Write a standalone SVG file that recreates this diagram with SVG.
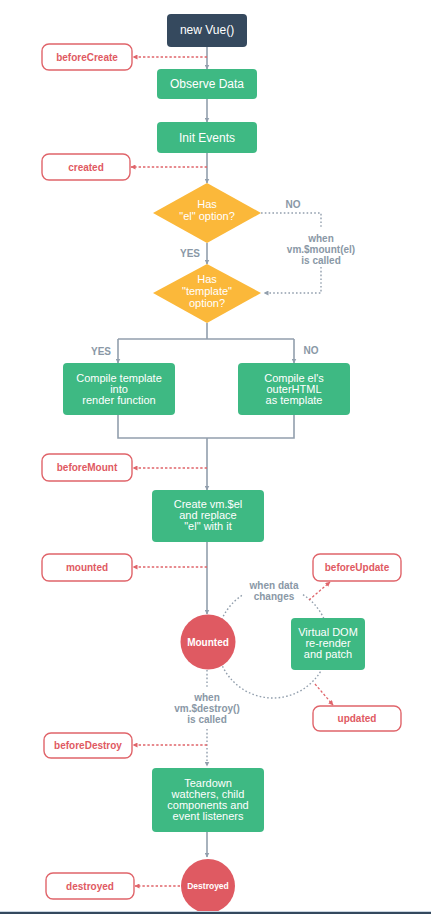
<svg xmlns="http://www.w3.org/2000/svg" width="431" height="914" viewBox="0 0 431 914">
<defs>
<style>
text{font-family:"Liberation Sans",Arial,sans-serif;text-anchor:middle}
.g{fill:#3eb983}
.d{fill:#35495e}
.o{fill:#fbb83a}
.r{fill:#df5a62}
.hook{fill:#fff;stroke:#e0646a;stroke-width:1.4}
.ht{fill:#df5a62;font-size:10px;font-weight:bold}
.wt{fill:#fff;font-size:11px}
.lt{fill:#8a98a6;font-size:10px;font-weight:bold}
.c{fill:none;stroke:#929fad;stroke-width:1.6}
.cd{fill:none;stroke:#929fad;stroke-width:1.4;stroke-dasharray:1.6 2.2}
.rd{fill:none;stroke:#e0646a;stroke-width:1.3;stroke-dasharray:2.4 2}
</style>
<marker id="ag" viewBox="0 0 10 10" refX="9" refY="5" markerWidth="5" markerHeight="5" markerUnits="userSpaceOnUse" orient="auto"><path d="M0 0L10 5L0 10z" fill="#929fad"/></marker>
<marker id="ar" viewBox="0 0 10 10" refX="9" refY="5" markerWidth="5" markerHeight="5" markerUnits="userSpaceOnUse" orient="auto"><path d="M0 0L10 5L0 10z" fill="#e0646a"/></marker>
</defs>
<rect width="431" height="914" fill="#fff"/>
<g id="connectors">
<path class="c" d="M207 47V69" marker-end="url(#ag)"/>
<path class="c" d="M207 99V122" marker-end="url(#ag)"/>
<path class="c" d="M207 153V183" marker-end="url(#ag)"/>
<path class="rd" d="M207 57H133" marker-end="url(#ar)"/>
<path class="rd" d="M207 167H131" marker-end="url(#ar)"/>
<path class="c" d="M207 243V264" marker-end="url(#ag)"/>
<path class="cd" d="M261 213H321V229"/>
<path class="cd" d="M321 267V293H264" marker-end="url(#ag)"/>
<path class="c" d="M207 323V339M118 339H294"/>
<path class="c" d="M118 339V363" marker-end="url(#ag)"/>
<path class="c" d="M294 339V363" marker-end="url(#ag)"/>
<path class="c" d="M118 415V438H294V415M207 438V490" marker-end="url(#ag)"/>
<path class="rd" d="M207 468H133" marker-end="url(#ar)"/>
<path class="c" d="M207 542V614" marker-end="url(#ag)"/>
<path class="rd" d="M207 567H133" marker-end="url(#ar)"/>
<path class="cd" d="M303 594.7A56 56 0 1 1 243 594.7"/>
<path class="rd" d="M309 600L330 582" marker-end="url(#ar)"/>
<path class="rd" d="M315 684L333 705" marker-end="url(#ar)"/>
<path class="cd" d="M207 670V687"/>
<path class="cd" d="M207 729V766" marker-end="url(#ag)"/>
<path class="rd" d="M207 745H133" marker-end="url(#ar)"/>
<path class="c" d="M207 832V857" marker-end="url(#ag)"/>
<path class="rd" d="M180 886H135" marker-end="url(#ar)"/>
</g>
<g id="new-vue"><rect class="d" x="167" y="14" width="80" height="33" rx="4"/><text class="wt" x="207" y="34" style="font-size:12px">new Vue()</text></g>
<g id="before-create"><rect class="hook" x="42" y="44" width="90" height="26" rx="7"/><text class="ht" x="87" y="61">beforeCreate</text></g>
<g id="observe-data"><rect class="g" x="157" y="69" width="100" height="30" rx="4"/><text class="wt" x="207" y="88" style="font-size:12px">Observe Data</text></g>
<g id="init-events"><rect class="g" x="157" y="122" width="100" height="31" rx="4"/><text class="wt" x="207" y="142" style="font-size:12px">Init Events</text></g>
<g id="created"><rect class="hook" x="42" y="154" width="88" height="26" rx="7"/><text class="ht" x="86" y="171">created</text></g>
<g id="has-el"><path class="o" d="M207 183L261 213L207 243L153 213z"/><text class="wt" x="207" y="208">Has</text><text class="wt" x="207" y="220">"el" option?</text></g>
<g id="labels-el"><text class="lt" x="293" y="208">NO</text><text class="lt" x="190" y="257">YES</text><text class="lt" x="321" y="242">when</text><text class="lt" x="321" y="253">vm.$mount(el)</text><text class="lt" x="321" y="264">is called</text></g>
<g id="has-template"><path class="o" d="M207 264L261 293L207 323L153 293z"/><text class="wt" x="207" y="283">Has</text><text class="wt" x="207" y="295">"template"</text><text class="wt" x="207" y="307">option?</text></g>
<g id="labels-template"><text class="lt" x="101" y="355">YES</text><text class="lt" x="311" y="354">NO</text></g>
<g id="compile-template"><rect class="g" x="63" y="363" width="112" height="52" rx="4"/><text class="wt" x="119" y="382">Compile template</text><text class="wt" x="119" y="393">into</text><text class="wt" x="119" y="404">render function</text></g>
<g id="compile-el"><rect class="g" x="238" y="363" width="112" height="52" rx="4"/><text class="wt" x="294" y="382">Compile el's</text><text class="wt" x="294" y="393">outerHTML</text><text class="wt" x="294" y="404">as template</text></g>
<g id="before-mount"><rect class="hook" x="42" y="454" width="90" height="27" rx="7"/><text class="ht" x="87" y="471">beforeMount</text></g>
<g id="create-el"><rect class="g" x="152" y="490" width="112" height="52" rx="4"/><text class="wt" x="208" y="508">Create vm.$el</text><text class="wt" x="208" y="519">and replace</text><text class="wt" x="208" y="530">"el" with it</text></g>
<g id="mounted-hook"><rect class="hook" x="42" y="554" width="90" height="27" rx="7"/><text class="ht" x="87" y="571">mounted</text></g>
<g id="before-update"><rect class="hook" x="313" y="554" width="88" height="27" rx="7"/><text class="ht" x="357" y="571">beforeUpdate</text></g>
<g id="data-label"><text class="lt" x="274" y="589">when data</text><text class="lt" x="274" y="600">changes</text></g>
<g id="mounted"><circle class="r" cx="208" cy="642" r="27.5"/><text x="208" y="646" style="fill:#fff;font-size:10px;font-weight:bold">Mounted</text></g>
<g id="virtual-dom"><rect class="g" x="291" y="618" width="74" height="52" rx="4"/><text class="wt" x="328" y="636">Virtual DOM</text><text class="wt" x="328" y="647">re-render</text><text class="wt" x="328" y="658">and patch</text></g>
<g id="updated"><rect class="hook" x="313" y="706" width="88" height="25" rx="7"/><text class="ht" x="357" y="722">updated</text></g>
<g id="destroy-label"><text class="lt" x="207" y="701">when</text><text class="lt" x="207" y="712">vm.$destroy()</text><text class="lt" x="207" y="723">is called</text></g>
<g id="before-destroy"><rect class="hook" x="44" y="733" width="88" height="25" rx="7"/><text class="ht" x="88" y="749">beforeDestroy</text></g>
<g id="teardown"><rect class="g" x="152" y="768" width="112" height="64" rx="4"/><text class="wt" x="208" y="787">Teardown</text><text class="wt" x="208" y="798">watchers, child</text><text class="wt" x="208" y="809">components and</text><text class="wt" x="208" y="820">event listeners</text></g>
<g id="destroyed"><circle class="r" cx="208" cy="886" r="27"/><text x="208" y="889" style="fill:#fff;font-size:8.5px;font-weight:bold">Destroyed</text></g>
<g id="destroyed-hook"><rect class="hook" x="46" y="873" width="88" height="26" rx="7"/><text class="ht" x="90" y="890">destroyed</text></g>
<rect x="0" y="911" width="431" height="1" fill="#c9d5e1"/>
<rect x="0" y="912" width="431" height="2" fill="#34495e"/>
</svg>
